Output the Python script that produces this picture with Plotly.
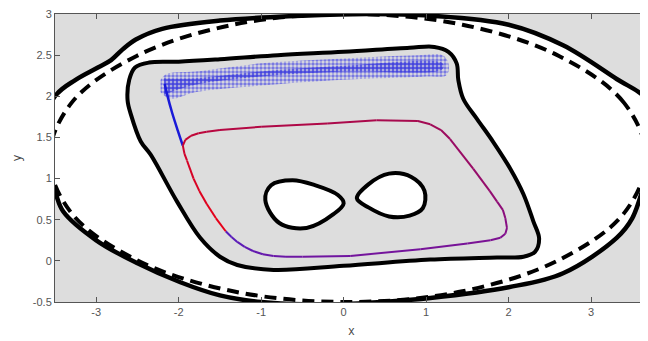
import plotly.graph_objects as go

# outer solid separatrix (closed curve)
outer_x = [-3.72, -3.5, -3.25, -2.98, -2.82, -2.68, -2.52, -2.2, -1.5, -0.5, 0.3, 1.05, 2.0, 2.66, 3.31,
           3.67, 3.88, 3.67, 3.5, 3.31, 2.66, 2.0, 1.05, 0.3, -0.2, -1.0, -1.5, -1.98, -2.5, -3.0, -3.4, -3.5]
outer_y = [1.4, 2.0, 2.2, 2.35, 2.44, 2.57, 2.69, 2.82, 2.92, 2.98, 3.0, 2.98, 2.87, 2.62, 2.21,
           1.97, 1.5, 1.0, 0.52, 0.28, -0.15, -0.32, -0.45, -0.51, -0.53, -0.5, -0.42, -0.26, -0.03, 0.25, 0.6, 0.84]

# dashed ellipse
ell_x = [3.67, 3.40, 2.61, 1.44, 0.05, -1.34, -2.51, -3.30, -3.57, -3.30, -2.51, -1.34, 0.05, 1.44, 2.61, 3.40]
ell_y = [1.25, 1.92, 2.49, 2.87, 3.0, 2.87, 2.49, 1.92, 1.25, 0.58, 0.01, -0.37, -0.5, -0.37, 0.01, 0.58]

# inner grey region boundary
inner_x = [-2.62, -2.60, -2.53, -2.36, -2.0, -1.5, -0.8, 0.0, 0.8, 1.1, 1.27, 1.37, 1.39, 1.45, 1.62, 1.81,
           2.02, 2.18, 2.30, 2.37, 2.32, 2.18, 1.86, 1.05, 0.0, -0.85, -1.29, -1.50, -1.74, -2.02, -2.34,
           -2.46, -2.58]
inner_y = [1.95, 2.20, 2.35, 2.41, 2.42, 2.45, 2.50, 2.54, 2.59, 2.60, 2.54, 2.40, 2.20, 1.97, 1.72, 1.45,
           1.12, 0.81, 0.48, 0.27, 0.11, 0.05, 0.04, 0.015, -0.06, -0.11, -0.05, 0.05, 0.28, 0.72, 1.29,
           1.45, 1.78]

# figure-eight lobes
lobe1_x = [-0.95, -0.88, -0.62, -0.35, -0.07, 0.0, -0.12, -0.45, -0.78]
lobe1_y = [0.74, 0.92, 0.98, 0.92, 0.80, 0.70, 0.57, 0.40, 0.46]
lobe2_x = [0.16, 0.30, 0.55, 0.82, 0.98, 0.96, 0.80, 0.55, 0.30]
lobe2_y = [0.76, 0.93, 1.06, 1.02, 0.85, 0.64, 0.55, 0.54, 0.65]

# coloured limit cycle (starts bottom-left, runs round to red side)
loop_x = [-1.43, -1.36, -1.29, -1.2, -1.1, -0.98, -0.85, -0.7, -0.5, 0.08, 0.93, 1.5, 1.78, 1.9, 1.96,
          1.98, 1.96, 1.93, 1.86, 1.77, 1.57, 1.29, 1.18, 1.05, 0.9, 0.4, -0.2, -1.0, -1.5, -1.66, -1.76,
          -1.85, -1.92, -1.95, -1.93, -1.90, -1.82, -1.75, -1.66, -1.55, -1.43]
loop_y = [0.36, 0.29, 0.23, 0.17, 0.12, 0.08, 0.06, 0.05, 0.05, 0.06, 0.14, 0.21, 0.25, 0.28, 0.33,
          0.40, 0.52, 0.62, 0.72, 0.85, 1.12, 1.48, 1.59, 1.66, 1.70, 1.71, 1.67, 1.63, 1.59, 1.57, 1.55,
          1.52, 1.47, 1.40, 1.30, 1.22, 1.0, 0.85, 0.69, 0.52, 0.36]

# blue tail from the cloud down to the cycle
tail_x = [-2.17, -2.14, -2.08, -2.01, -1.95]
tail_y = [2.15, 2.02, 1.80, 1.58, 1.40]

# blue point cloud band (outer and dense core)
cloud_x = [-2.22, -2.15, -1.8, -1.0, 0.0, 0.9, 1.2, 1.27, 1.25, 1.0, 0.0, -1.0, -1.8, -2.1, -2.22]
cloud_y = [2.20, 2.27, 2.30, 2.40, 2.46, 2.50, 2.50, 2.40, 2.26, 2.24, 2.20, 2.13, 2.05, 1.97, 2.05]
core_x = [-2.18, -1.8, -1.0, 0.0, 1.2, 1.2, 0.0, -1.0, -1.8, -2.18]
core_y = [2.22, 2.22, 2.30, 2.37, 2.40, 2.33, 2.30, 2.24, 2.14, 2.02]

xtick = [-3, -2, -1, 0, 1, 2, 3]
ytick = [-0.5, 0, 0.5, 1, 1.5, 2, 2.5, 3]

GREY = '#dddddd'


def closed(a):
    return list(a) + [a[0]]


fig = go.Figure()

fig.add_trace(go.Scatter(x=closed(outer_x), y=closed(outer_y), mode='lines', fill='toself',
                         fillcolor='white', line=dict(color='black', width=4.5, shape='spline')))
fig.add_trace(go.Scatter(x=closed(ell_x), y=closed(ell_y), mode='lines',
                         line=dict(color='black', width=4, shape='spline', dash='12px,7px')))
fig.add_trace(go.Scatter(x=closed(inner_x), y=closed(inner_y), mode='lines', fill='toself',
                         fillcolor=GREY, line=dict(color='black', width=4, shape='spline')))
for lx, ly in [(lobe1_x, lobe1_y), (lobe2_x, lobe2_y)]:
    fig.add_trace(go.Scatter(x=closed(lx), y=closed(ly), mode='lines', fill='toself',
                             fillcolor='white', line=dict(color='black', width=4, shape='spline')))

# blue cloud drawn as dotted pattern fills
fig.add_trace(go.Scatter(x=cloud_x, y=cloud_y, mode='lines', fill='toself', line=dict(width=0, shape='spline'),
                         fillcolor='rgba(0,0,0,0)',
                         fillpattern=dict(shape='.', fgcolor='#1818e6', bgcolor='rgba(0,0,0,0)',
                                          size=4, solidity=0.6)))
fig.add_trace(go.Scatter(x=core_x, y=core_y, mode='lines', fill='toself', line=dict(width=0, shape='spline'),
                         fillcolor='rgba(0,0,0,0)',
                         fillpattern=dict(shape='.', fgcolor='#1010dc', bgcolor='rgba(0,0,0,0)',
                                          size=4, solidity=0.8)))

fig.add_trace(go.Scatter(x=tail_x, y=tail_y, mode='lines',
                         line=dict(color='#1a1ad8', width=2.5, shape='spline')))

# colour ramp along the cycle: blue-violet -> purple -> red
stops = [(0.0, (85, 30, 190)), (0.35, (130, 15, 140)), (0.6, (165, 10, 80)), (1.0, (232, 0, 22))]


def ramp(t):
    for (t0, c0), (t1, c1) in zip(stops[:-1], stops[1:]):
        if t <= t1:
            f = (t - t0) / (t1 - t0)
            return 'rgb(%d,%d,%d)' % tuple(round(a + (b - a) * f) for a, b in zip(c0, c1))
    return 'rgb(%d,%d,%d)' % stops[-1][1]


n = len(loop_x) - 1
for i in range(n):
    fig.add_trace(go.Scatter(x=loop_x[i:i + 2], y=loop_y[i:i + 2], mode='lines',
                             line=dict(color=ramp((i + 0.5) / n), width=2)))

axis_common = dict(showgrid=False, zeroline=False, showline=True, linecolor='#555555', linewidth=1,
                   mirror='ticks', ticks='inside', ticklen=5, tickcolor='#555555',
                   tickfont=dict(family='Liberation Sans, Arial, sans-serif', size=11, color='#555555'),
                   automargin=False, ticklabeloverflow='allow')

# the page body adds an 8px offset, so the figure is shifted by 8px
fig.update_layout(
    width=640, height=333,
    margin=dict(l=47, r=0, t=6, b=39),
    plot_bgcolor=GREY, paper_bgcolor='white',
    showlegend=False,
    xaxis=dict(range=[-3.5, 3.69], tickvals=xtick, ticktext=[str(v) for v in xtick],
               title=dict(text='x', standoff=9, font=dict(size=12, color='#444444')), **axis_common),
    yaxis=dict(range=[-0.5, 3], tickvals=ytick, ticktext=[('%g' % v) for v in ytick],
               title=dict(text='y', standoff=19, font=dict(size=12, color='#444444')), **axis_common),
)

fig.write_html("out.html")
